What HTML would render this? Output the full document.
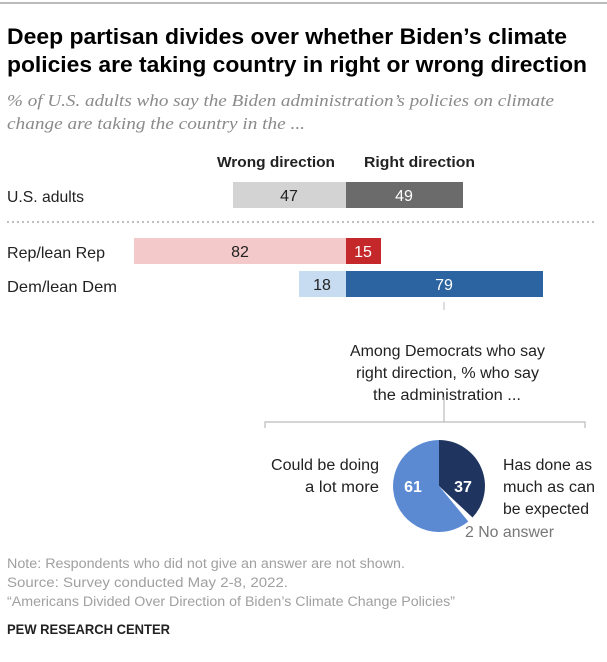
<!DOCTYPE html>
<html><head><meta charset="utf-8"><style>
html,body{margin:0;padding:0;background:#fff;}
svg{display:block;font-family:"Liberation Sans",Arial,sans-serif;}
</style></head><body>
<svg width="607" height="662" viewBox="0 0 607 662">
<rect width="607" height="662" fill="#fff"/>
<line x1="0" y1="3" x2="607" y2="3" stroke="#bbb" stroke-width="2"/>
<text x="7" y="44" font-size="22" font-weight="bold" fill="#000" textLength="560" lengthAdjust="spacingAndGlyphs">Deep partisan divides over whether Biden’s climate</text>
<text x="7" y="72" font-size="22" font-weight="bold" fill="#000" textLength="580" lengthAdjust="spacingAndGlyphs">policies are taking country in right or wrong direction</text>
<text x="7" y="106" font-size="16.5" font-style="italic" font-family="Liberation Serif, serif" fill="#8a8a8a" textLength="547" lengthAdjust="spacingAndGlyphs">% of U.S. adults who say the Biden administration’s policies on climate</text>
<text x="7" y="129" font-size="16.5" font-style="italic" font-family="Liberation Serif, serif" fill="#8a8a8a" textLength="298" lengthAdjust="spacingAndGlyphs">change are taking the country in the ...</text>

<text x="217" y="167" font-size="15" font-weight="bold" fill="#222" textLength="118" lengthAdjust="spacingAndGlyphs">Wrong direction</text>
<text x="364" y="167" font-size="15" font-weight="bold" fill="#222" textLength="111" lengthAdjust="spacingAndGlyphs">Right direction</text>

<text x="7" y="202" font-size="16" fill="#222" textLength="77" lengthAdjust="spacingAndGlyphs">U.S. adults</text>
<rect x="233" y="182" width="113" height="26" fill="#d3d3d3"/>
<rect x="346" y="182" width="117" height="26" fill="#6b6b6b"/>
<text x="289" y="201" font-size="16" text-anchor="middle" fill="#222">47</text>
<text x="404" y="201" font-size="16" text-anchor="middle" fill="#fff">49</text>

<line x1="7" y1="222" x2="597" y2="222" stroke="#999" stroke-width="1.2" stroke-dasharray="2,3"/>

<text x="7" y="258" font-size="16" fill="#222" textLength="98" lengthAdjust="spacingAndGlyphs">Rep/lean Rep</text>
<rect x="134" y="238" width="212" height="26" fill="#f4c9c9"/>
<rect x="346" y="238" width="35" height="26" fill="#c4282a"/>
<text x="240" y="257" font-size="16" text-anchor="middle" fill="#222">82</text>
<text x="363" y="257" font-size="16" text-anchor="middle" fill="#fff">15</text>

<text x="7" y="292" font-size="16" fill="#222" textLength="110" lengthAdjust="spacingAndGlyphs">Dem/lean Dem</text>
<rect x="299" y="271" width="47" height="26" fill="#c7dcf0"/>
<rect x="346" y="271" width="197" height="26" fill="#2c64a1"/>
<text x="322" y="290" font-size="16" text-anchor="middle" fill="#222">18</text>
<text x="444" y="290" font-size="16" text-anchor="middle" fill="#fff">79</text>

<line x1="444" y1="302" x2="444" y2="310" stroke="#bbb"/>
<text x="350" y="356" font-size="15.5" fill="#222" textLength="195" lengthAdjust="spacingAndGlyphs">Among Democrats who say</text>
<text x="356" y="378" font-size="15.5" fill="#222" textLength="183" lengthAdjust="spacingAndGlyphs">right direction, % who say</text>
<text x="373" y="400" font-size="15.5" fill="#222" textLength="148" lengthAdjust="spacingAndGlyphs">the administration ...</text>
<line x1="444" y1="397" x2="444" y2="422" stroke="#bbb" stroke-width="1.2"/>
<polyline points="265,428 265,422 585,422 585,428" fill="none" stroke="#bbb" stroke-width="1.2"/>

<path d="M439,486 L439,440 A46,46 0 0,1 472.5,517.5 Z" fill="#1f3560"/>
<path d="M439,486 L468.3,521.5 A46,46 0 1,1 439,440 Z" fill="#5b8ad3"/>
<text x="413" y="492" font-size="16" font-weight="bold" text-anchor="middle" fill="#fff">61</text>
<text x="463" y="492" font-size="16" font-weight="bold" text-anchor="middle" fill="#fff">37</text>
<text x="271" y="470" font-size="15.5" fill="#222" textLength="108" lengthAdjust="spacingAndGlyphs">Could be doing</text>
<text x="305" y="492" font-size="15.5" fill="#222" textLength="74" lengthAdjust="spacingAndGlyphs">a lot more</text>
<text x="503" y="470" font-size="15.5" fill="#222" textLength="89" lengthAdjust="spacingAndGlyphs">Has done as</text>
<text x="503" y="492" font-size="15.5" fill="#222" textLength="92" lengthAdjust="spacingAndGlyphs">much as can</text>
<text x="503" y="514" font-size="15.5" fill="#222" textLength="86" lengthAdjust="spacingAndGlyphs">be expected</text>
<text x="465" y="537" font-size="15.5" fill="#777" textLength="89" lengthAdjust="spacingAndGlyphs">2 No answer</text>

<text x="7" y="568" font-size="13.5" fill="#a0a0a0" textLength="398" lengthAdjust="spacingAndGlyphs">Note: Respondents who did not give an answer are not shown.</text>
<text x="7" y="587" font-size="13.5" fill="#a0a0a0" textLength="281" lengthAdjust="spacingAndGlyphs">Source: Survey conducted May 2-8, 2022.</text>
<text x="7" y="606" font-size="13.5" fill="#a0a0a0" textLength="448" lengthAdjust="spacingAndGlyphs">“Americans Divided Over Direction of Biden’s Climate Change Policies”</text>
<text x="7" y="634" font-size="14" font-weight="bold" fill="#222" textLength="163" lengthAdjust="spacingAndGlyphs">PEW RESEARCH CENTER</text>
</svg>
</body></html>
